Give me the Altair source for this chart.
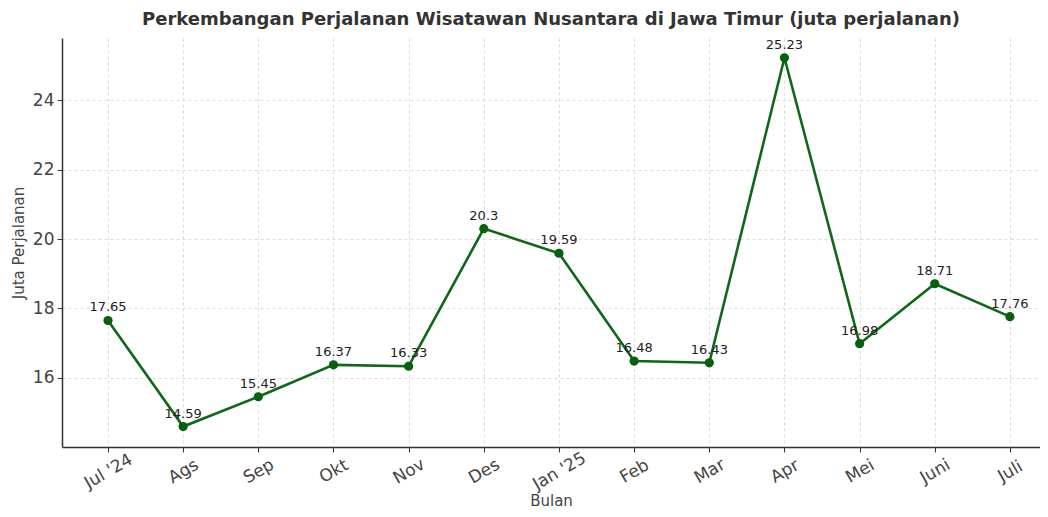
import json
import altair as alt
import pandas as pd

months = ["Jul '24", "Ags", "Sep", "Okt", "Nov", "Des", "Jan '25", "Feb", "Mar", "Apr", "Mei", "Juni", "Juli"]
values = [17.65, 14.59, 15.45, 16.37, 16.33, 20.3, 19.59, 16.48, 16.43, 25.23, 16.98, 18.71, 17.76]
y_ticks = [16, 18, 20, 22, 24]

df = pd.DataFrame({"idx": list(range(len(months))), "bulan": months, "nilai": values,
                   "label": [f"{v:g}" for v in values]})

label_expr = json.dumps(months) + "[datum.value]"

x = alt.X("idx:Q", title="Bulan",
          scale=alt.Scale(domain=[-0.612, 12.4], nice=False, zero=False),
          axis=alt.Axis(values=list(range(len(months))), labelExpr=label_expr,
                        labelAngle=-30, labelAlign="center", labelBaseline="middle",
                        labelFontSize=17, labelColor="#444", labelPadding=19,
                        titleFontSize=15, titleFontWeight="normal", titleColor="#444",
                        titleY=53, titleBaseline="middle",
                        grid=True, gridDash=[3, 3], gridColor="#dcdcdc",
                        domainColor="#333", domainWidth=1.5, tickColor="#333", tickSize=5,
                        labelFont="DejaVu Sans", titleFont="DejaVu Sans"))
y = alt.Y("nilai:Q", title="Juta Perjalanan",
          scale=alt.Scale(domain=[14.0, 25.8], nice=False, zero=False),
          axis=alt.Axis(values=y_ticks, labelFontSize=17, labelColor="#444", labelPadding=3,
                        titleFontSize=15, titleFontWeight="normal", titleColor="#444", titlePadding=6,
                        grid=True, gridDash=[3, 3], gridColor="#dcdcdc",
                        domainColor="#333", domainWidth=1.5, tickColor="#333", tickSize=5,
                        labelFont="DejaVu Sans", titleFont="DejaVu Sans"))

base = alt.Chart(df)
line = base.mark_line(color="#10661a", strokeWidth=2.6).encode(x=x, y=y)
pts = base.mark_point(filled=True, color="#0a5e10", size=85, opacity=1).encode(x=x, y=y)
txt = base.mark_text(dy=-13, fontSize=13, color="#222", font="DejaVu Sans").encode(x=x, y=y, text="label:N")

chart = (line + pts + txt).properties(
    width=978, height=409,
    title=alt.TitleParams("Perkembangan Perjalanan Wisatawan Nusantara di Jawa Timur (juta perjalanan)",
                          fontSize=18, fontWeight="bold", color="#333", font="DejaVu Sans",
                          anchor="middle", offset=9),
    autosize=alt.AutoSizeParams(type="none"),
    padding={"left": 54, "top": 30, "right": 0, "bottom": 62},
).configure_view(stroke=None)

chart.save("out.html", embed_options={"renderer": "svg", "actions": False})
